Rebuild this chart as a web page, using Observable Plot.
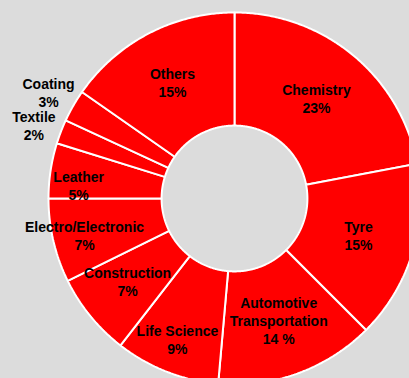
<!DOCTYPE html>
<html><head><meta charset="utf-8">
<script src="https://cdn.jsdelivr.net/npm/d3@7"></script>
<script src="https://cdn.jsdelivr.net/npm/@observablehq/plot@0.6"></script>
<style>html,body{margin:0;padding:0;background:#dcdcdc;overflow:hidden;}#chart svg{display:block;}</style>
</head><body><div id="chart"></div>
<script>
// Data (clockwise from 12 o'clock); slice sizes as drawn, labels as printed
const categories = ["Chemistry", "Tyre", "Automotive\nTransportation", "Life Science", "Construction", "Electro/Electronic", "Leather", "Textile", "Coating", "Others"];
const shares = [22.0, 15.5, 13.9, 9.1, 7.2, 7.3, 4.8, 2.1, 2.8, 15.3];
const shareLabels = ["23%", "15%", "14 %", "9%", "7%", "7%", "5%", "2%", "3%", "15%"];

// Layout (not data): donut radii in normalized units, label placement [radius, angle shift in degrees]
const OUTER = 1, INNER = 0.392;
const labelPlace = {
  "Chemistry": [0.697, -0.4],
  "Tyre": [0.696, -0.5],
  "Automotive\nTransportation": [0.695, 0],
  "Life Science": [0.815, 0.7],
  "Construction": [0.726, 1.6],
  "Electro/Electronic": [0.830, -0.6],
  "Leather": [0.841, -3.8],
  "Textile": [1.148, -1.0],
  "Coating": [1.152, -0.1],
  "Others": [0.707, -0.6]
};

const total = d3.sum(shares);
let acc = 0;
const slices = categories.map((c, i) => {
  const a0 = acc / total * 2 * Math.PI;
  acc += shares[i];
  const a1 = acc / total * 2 * Math.PI;
  return {category: c, a0, a1, label: c + "\n" + shareLabels[i]};
});

// polygon outline points for each slice
const pts = [];
for (const s of slices) {
  const n = Math.max(4, Math.ceil((s.a1 - s.a0) / (Math.PI / 360)));
  const ring = [];
  for (let k = 0; k <= n; k++) {
    const a = s.a0 + (s.a1 - s.a0) * k / n;
    ring.push({category: s.category, x: OUTER * Math.sin(a), y: OUTER * Math.cos(a)});
  }
  for (let k = n; k >= 0; k--) {
    const a = s.a0 + (s.a1 - s.a0) * k / n;
    ring.push({category: s.category, x: INNER * Math.sin(a), y: INNER * Math.cos(a)});
  }
  ring.push({...ring[0]});
  pts.push(...ring);
}

const labels = slices.map(s => {
  const [r, shift] = labelPlace[s.category];
  const a = (s.a0 + s.a1) / 2 + shift * Math.PI / 180;
  return {label: s.label, x: r * Math.sin(a), y: r * Math.cos(a)};
});

const chart = Plot.plot({
  width: 409,
  height: 378,
  margin: 0,
  style: {background: "#dcdcdc", fontFamily: "'Liberation Sans', Arial, sans-serif", overflow: "hidden"},
  x: {domain: [-1, 1], range: [48, 420], axis: null},
  y: {domain: [-1, 1], range: [384, 12], axis: null},
  marks: [
    Plot.line(pts, {x: "x", y: "y", z: "category", fill: "#ff0000", stroke: "white", strokeWidth: 2, strokeLinejoin: "miter", curve: "linear"}),
    Plot.text(labels, {x: "x", y: "y", text: "label", fontSize: 14, fontWeight: "bold", fill: "black", lineHeight: 1.3, lineAnchor: "middle", textAnchor: "middle"})
  ]
});
document.getElementById("chart").appendChild(chart);
</script>
</body></html>
